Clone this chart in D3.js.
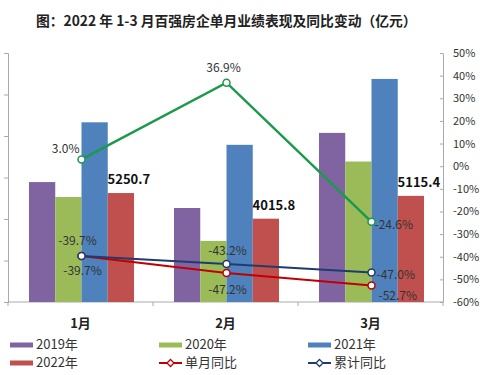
<!DOCTYPE html>
<html>
<head>
<meta charset="utf-8">
<script src="https://cdn.jsdelivr.net/npm/d3@7"></script>
<style>
  body { margin: 0; background: #fff; }
  text { font-family: "Noto Sans CJK SC", "Noto Sans", sans-serif; }
</style>
</head>
<body>
<svg id="chart"></svg>
<script>
(function () {
var width = 500, height = 375

// data
var months = ['1月', '2月', '3月']
var seriesNames = ['2019年', '2020年', '2021年', '2022年']
var v2019 = [5780, 4530, 8150]
var v2020 = [5060, 2945, 6770]
var v2021 = [8660, 7575, 10750]
var v2022 = [5250.7, 4015.8, 5115.4]
var monthYoY = [-39.7, -47.2, -52.7]   // 单月同比
var cumYoY = [-39.7, -43.2, -47.0]     // 累计同比
var greenYoY = [3.0, 36.9, -24.6]      // green line, not in legend
var rightTicks = [50, 40, 30, 20, 10, 0, -10, -20, -30, -40, -50, -60]

var barColors = ['#8064a2', '#9bbb59', '#4f81bd', '#c0504d']
var barValues = [v2019, v2020, v2021, v2022]

var svg = d3.select('#chart')
    .attr('width', width)
    .attr('height', height)

var left = 8, right = 443, top = 53, bottom = 302

var x0 = d3.scaleBand().domain(months).range([left, right])
var x1 = d3.scaleBand().domain(seriesNames).range([21, 126])
var groupMid = (x1.range()[0] + x1.range()[1]) / 2
var yL = d3.scaleLinear().domain([0, 12000]).range([bottom, top])
var yR = d3.scaleLinear().domain([-60, 50]).range([bottom, top])

// title
svg.append('text')
    .attr('x', 36).attr('y', 26)
    .style('font-size', '13.8px')
    .style('font-weight', 'bold')
    .attr('fill', '#222')
    .text('图：2022 年 1-3 月百强房企单月业绩表现及同比变动（亿元）')

// left axis (no labels)
var gL = svg.append('g')
    .attr('transform', 'translate(' + left + ',0)')
    .call(d3.axisLeft(yL).tickValues(d3.range(0, 12001, 2000)).tickSize(4).tickFormat(''))
gL.select('.domain').attr('stroke', '#aaa')
gL.selectAll('.tick line').attr('stroke', '#aaa')

// right axis
var gR = svg.append('g')
    .attr('transform', 'translate(' + right + ',0)')
    .call(d3.axisRight(yR).tickValues(rightTicks).tickSize(0).tickPadding(10)
        .tickFormat(function (d) { return d + '%' }))
gR.select('.domain').attr('stroke', '#aaa')
gR.selectAll('.tick text').attr('fill', '#333').style('font-size', '11px')
gR.selectAll('.tick').append('line').attr('x1', -3).attr('x2', 0).attr('stroke', '#aaa')

// bottom axis
var gB = svg.append('g')
    .attr('transform', 'translate(0,' + bottom + ')')
gB.append('line').attr('x1', left).attr('x2', right).attr('stroke', '#aaa')
gB.selectAll('line.tk')
    .data(months.map(function (m) { return x0(m) }).concat([right]))
    .enter().append('line')
    .attr('class', 'tk')
    .attr('x1', function (d) { return d }).attr('x2', function (d) { return d })
    .attr('y1', 0).attr('y2', 4)
    .attr('stroke', '#aaa')
gB.selectAll('text')
    .data(months)
    .enter().append('text')
    .attr('x', function (d) { return x0(d) + x0.bandwidth() / 2 })
    .attr('y', 26)
    .attr('text-anchor', 'middle')
    .style('font-size', '13px')
    .style('font-weight', 'bold')
    .attr('fill', '#222')
    .text(function (d) { return d })

// bars
var groups = svg.selectAll('g.month')
    .data(months)
    .enter().append('g')
    .attr('class', 'month')
    .attr('transform', function (d) { return 'translate(' + x0(d) + ',0)' })

groups.selectAll('rect')
    .data(function (m, i) {
        return seriesNames.map(function (s, j) { return {s: s, v: barValues[j][i], c: barColors[j]} })
    })
    .enter().append('rect')
    .attr('x', function (d) { return x1(d.s) })
    .attr('width', x1.bandwidth())
    .attr('y', function (d) { return yL(d.v) })
    .attr('height', function (d) { return bottom - yL(d.v) })
    .attr('fill', function (d) { return d.c })

// 2022 value labels
svg.selectAll('text.val')
    .data(v2022)
    .enter().append('text')
    .attr('class', 'val')
    .attr('x', function (d, i) { return x0(months[i]) + x1('2022年') + x1.bandwidth() / 2 + 8 })
    .attr('y', function (d) { return yL(d) - 9 })
    .attr('text-anchor', 'middle')
    .style('font-size', '13px')
    .style('font-weight', 'bold')
    .attr('fill', '#111')
    .text(function (d) { return d.toFixed(1) })

// lines
var px = function (d, i) { return x0(months[i]) + groupMid }
var line = d3.line().x(px).y(function (d) { return yR(d) })

var lineSeries = [
    {vals: greenYoY, color: '#1a9a4a', w: 2.5,
     place: [{dx: -2, dy: -10, a: 'end'}, {dx: -3, dy: -14, a: 'middle'}, {dx: 3, dy: 4, a: 'start'}]},
    {vals: monthYoY, color: '#c00000', w: 2,
     place: [{dx: 1, dy: 16, a: 'middle'}, {dx: 1, dy: 18, a: 'middle'}, {dx: 7, dy: 11, a: 'start'}]},
    {vals: cumYoY, color: '#1f3c6e', w: 2,
     place: [{dx: -4, dy: -14, a: 'middle'}, {dx: 1, dy: -12, a: 'middle'}, {dx: 5, dy: 3, a: 'start'}]}
]

lineSeries.forEach(function (s) {
    svg.append('path')
        .datum(s.vals)
        .attr('d', line)
        .attr('fill', 'none')
        .attr('stroke', s.color)
        .attr('stroke-width', s.w)
})
lineSeries.forEach(function (s) {
    svg.selectAll(null)
        .data(s.vals)
        .enter().append('circle')
        .attr('cx', px)
        .attr('cy', function (d) { return yR(d) })
        .attr('r', 3.5)
        .attr('fill', '#fff')
        .attr('stroke', s.color)
        .attr('stroke-width', 1.5)
    svg.selectAll(null)
        .data(s.vals)
        .enter().append('text')
        .attr('x', function (d, i) { return px(d, i) + s.place[i].dx })
        .attr('y', function (d, i) { return yR(d) + s.place[i].dy })
        .attr('text-anchor', function (d, i) { return s.place[i].a })
        .attr('dominant-baseline', 'middle')
        .style('font-size', '12px')
        .attr('fill', '#333')
        .text(function (d) { return d.toFixed(1) + '%' })
})

// legend
var legendItems = [
    {label: '2019年', type: 'bar', color: barColors[0]},
    {label: '2020年', type: 'bar', color: barColors[1]},
    {label: '2021年', type: 'bar', color: barColors[2]},
    {label: '2022年', type: 'bar', color: barColors[3]},
    {label: '单月同比', type: 'line', color: '#c00000'},
    {label: '累计同比', type: 'line', color: '#1f3c6e'}
]
var lg = svg.selectAll('g.leg')
    .data(legendItems)
    .enter().append('g')
    .attr('class', 'leg')
    .attr('transform', function (d, i) {
        return 'translate(' + (10 + (i % 3) * 149) + ',' + (345 + Math.floor(i / 3) * 18) + ')'
    })
lg.each(function (d) {
    var g = d3.select(this)
    if (d.type === 'bar') {
        g.append('rect').attr('x', 0).attr('y', -2.5).attr('width', 23).attr('height', 5).attr('fill', d.color)
    } else {
        g.append('line').attr('x1', 0).attr('x2', 23).attr('stroke', d.color).attr('stroke-width', 2)
        g.append('path').attr('d', 'M11.5,-3.5L15,0L11.5,3.5L8,0Z')
            .attr('fill', '#fff').attr('stroke', d.color).attr('stroke-width', 1.3)
    }
    g.append('text')
        .attr('x', 26).attr('y', 0)
        .attr('dominant-baseline', 'middle')
        .style('font-size', '13px')
        .attr('fill', '#333')
        .text(d.label)
})
})();
</script>
</body>
</html>
